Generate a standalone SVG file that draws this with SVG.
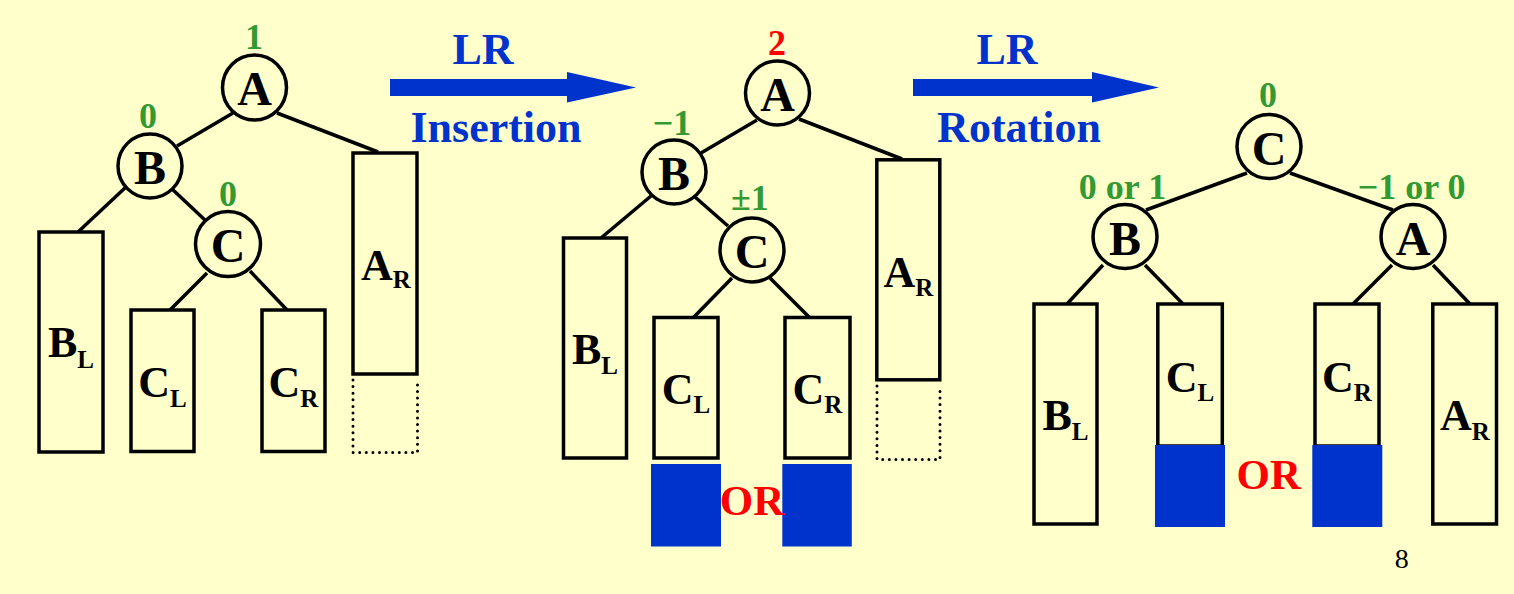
<svg xmlns="http://www.w3.org/2000/svg" width="1514" height="594" viewBox="0 0 1514 594">
<style>
  .bg{fill:#FFFFCC}
  .node{fill:#FFFFCC;stroke:#000;stroke-width:3.5}
  .box{fill:#FFFFCC;stroke:#000;stroke-width:3.5}
  .dot{fill:none;stroke:#000;stroke-width:3;stroke-linecap:round;stroke-dasharray:0 6.6}
  .edge{stroke:#000;stroke-width:3.5;fill:none}
  .fill{fill:#0033CC}
  .arrow{fill:#0033CC}
  .lt{font-family:"Liberation Serif","Times New Roman",serif;font-weight:bold;font-size:48px;fill:#000;text-anchor:middle}
  .bl{font-family:"Liberation Serif","Times New Roman",serif;font-weight:bold;font-size:44px;fill:#000;text-anchor:middle}
  .sub{font-size:25px}
  .bf{font-family:"Liberation Serif","Times New Roman",serif;font-weight:bold;font-size:36px;fill:#339933;text-anchor:middle}
  .red{fill:#FF0000}
  .blue{font-family:"Liberation Serif","Times New Roman",serif;font-weight:bold;font-size:44px;fill:#0033CC;text-anchor:middle}
  .or{font-family:"Liberation Serif","Times New Roman",serif;font-weight:bold;font-size:43px;fill:#FF0000;text-anchor:middle}
  .pg{font-family:"Liberation Serif","Times New Roman",serif;font-size:28px;fill:#000;text-anchor:middle}
</style>
<rect class="bg" x="0" y="0" width="1514" height="594"/>

<g id="connectors">
  <!-- tree 1 -->
  <line class="edge" x1="233" y1="113" x2="177" y2="146"/>
  <line class="edge" x1="277" y1="113" x2="378" y2="152"/>
  <line class="edge" x1="126" y1="187" x2="78" y2="232"/>
  <line class="edge" x1="172" y1="189" x2="205" y2="220"/>
  <line class="edge" x1="207" y1="273" x2="170" y2="310"/>
  <line class="edge" x1="250" y1="271" x2="287" y2="310"/>
  <!-- tree 2 -->
  <line class="edge" x1="757" y1="120" x2="701" y2="153"/>
  <line class="edge" x1="799" y1="119" x2="902" y2="159"/>
  <line class="edge" x1="651" y1="196" x2="601" y2="238"/>
  <line class="edge" x1="695" y1="197" x2="728" y2="226"/>
  <line class="edge" x1="732" y1="278" x2="693" y2="318"/>
  <line class="edge" x1="770" y1="278" x2="810" y2="318"/>
  <!-- tree 3 -->
  <line class="edge" x1="1247" y1="173" x2="1146" y2="210"/>
  <line class="edge" x1="1290" y1="173" x2="1393" y2="210"/>
  <line class="edge" x1="1103" y1="265" x2="1067" y2="304"/>
  <line class="edge" x1="1145" y1="265" x2="1183" y2="304"/>
  <line class="edge" x1="1392" y1="265" x2="1353" y2="304"/>
  <line class="edge" x1="1433" y1="265" x2="1470" y2="304"/>
</g>

<g id="transitions">
  <polygon class="arrow" points="390,79 567,79 567,72 636,87.5 567,102.5 567,96 390,96"/>
  <text class="blue" x="483" y="64">LR</text>
  <text class="blue" x="496" y="142">Insertion</text>
  <polygon class="arrow" points="913,79 1092,79 1092,72 1159,87.5 1092,102.5 1092,96 913,96"/>
  <text class="blue" x="1007" y="64">LR</text>
  <text class="blue" x="1019" y="142">Rotation</text>
</g>

<!-- Tree 1 -->
<g id="t1-A">
  <ellipse class="node" cx="254.5" cy="87.5" rx="32" ry="32.5"/>
  <text class="lt" x="254.5" y="105">A</text>
  <text class="bf" x="254" y="49">1</text>
</g>
<g id="t1-B">
  <circle class="node" cx="150" cy="166" r="32"/>
  <text class="lt" x="150" y="184">B</text>
  <text class="bf" x="148" y="128">0</text>
</g>
<g id="t1-C">
  <circle class="node" cx="228" cy="244" r="32.5"/>
  <text class="lt" x="228" y="262">C</text>
  <text class="bf" x="228" y="206">0</text>
</g>
<g id="t1-BL">
  <rect class="box" x="39" y="232" width="64" height="220"/>
  <text class="bl" x="71" y="357">B<tspan class="sub" dy="11">L</tspan></text>
</g>
<g id="t1-CL">
  <rect class="box" x="131" y="310" width="63" height="141.5"/>
  <text class="bl" x="162.5" y="397">C<tspan class="sub" dy="10">L</tspan></text>
</g>
<g id="t1-CR">
  <rect class="box" x="262" y="310" width="63" height="141.5"/>
  <text class="bl" x="293.5" y="397">C<tspan class="sub" dy="10">R</tspan></text>
</g>
<g id="t1-AR">
  <rect class="box" x="353" y="153" width="64" height="221"/>
  <path class="dot" d="M353,380 V452.5 H417.5 V380"/>
  <text class="bl" x="386" y="280">A<tspan class="sub" dy="8">R</tspan></text>
</g>

<!-- Tree 2 -->
<g id="t2-A">
  <circle class="node" cx="777.5" cy="93" r="32"/>
  <text class="lt" x="777.5" y="111">A</text>
  <text class="bf red" x="777" y="55">2</text>
</g>
<g id="t2-B">
  <circle class="node" cx="674" cy="172" r="32"/>
  <text class="lt" x="674" y="190">B</text>
  <text class="bf" x="672" y="135">−1</text>
</g>
<g id="t2-C">
  <circle class="node" cx="752" cy="250" r="32"/>
  <text class="lt" x="752" y="268">C</text>
  <text class="bf" x="750" y="210">±1</text>
</g>
<g id="t2-BL">
  <rect class="box" x="563.5" y="238" width="63" height="220"/>
  <text class="bl" x="595" y="364">B<tspan class="sub" dy="10">L</tspan></text>
</g>
<g id="t2-CL">
  <rect class="box" x="654" y="317.5" width="64" height="140.5"/>
  <rect class="fill" x="651" y="464" width="70" height="82.5"/>
  <text class="bl" x="686" y="404">C<tspan class="sub" dy="9">L</tspan></text>
</g>
<g id="t2-CR">
  <rect class="box" x="785" y="317.5" width="65" height="140.5"/>
  <rect class="fill" x="782.3" y="464" width="69.5" height="82.5"/>
  <text class="bl" x="817.5" y="404">C<tspan class="sub" dy="9">R</tspan></text>
</g>
<text id="t2-or" class="or" x="752" y="515">OR</text>
<g id="t2-AR">
  <rect class="box" x="876.8" y="159.8" width="63" height="220"/>
  <path class="dot" d="M877,386 V459.5 H940 V386"/>
  <text class="bl" x="908.5" y="287">A<tspan class="sub" dy="9">R</tspan></text>
</g>

<!-- Tree 3 -->
<g id="t3-C">
  <circle class="node" cx="1269" cy="146.5" r="32"/>
  <text class="lt" x="1269" y="164.5">C</text>
  <text class="bf" x="1268" y="107">0</text>
</g>
<g id="t3-B">
  <circle class="node" cx="1125" cy="236.5" r="32"/>
  <text class="lt" x="1125" y="254.5">B</text>
  <text class="bf" x="1122.5" y="199">0 or 1</text>
</g>
<g id="t3-A">
  <circle class="node" cx="1413" cy="236.5" r="32"/>
  <text class="lt" x="1413" y="254.5">A</text>
  <text class="bf" x="1411.7" y="199">−1 or 0</text>
</g>
<g id="t3-BL">
  <rect class="box" x="1034" y="304" width="63" height="220"/>
  <text class="bl" x="1065.5" y="430">B<tspan class="sub" dy="10">L</tspan></text>
</g>
<g id="t3-CL">
  <rect class="box" x="1157.8" y="304" width="64.5" height="142"/>
  <rect class="fill" x="1155" y="445" width="70" height="82"/>
  <text class="bl" x="1190" y="392">C<tspan class="sub" dy="9">L</tspan></text>
</g>
<g id="t3-CR">
  <rect class="box" x="1315" y="304" width="64" height="142"/>
  <rect class="fill" x="1312.3" y="445" width="70" height="82"/>
  <text class="bl" x="1347" y="392">C<tspan class="sub" dy="9">R</tspan></text>
</g>
<text id="t3-or" class="or" x="1268.7" y="489">OR</text>
<g id="t3-AR">
  <rect class="box" x="1432.8" y="304" width="63.7" height="220"/>
  <text class="bl" x="1465" y="430">A<tspan class="sub" dy="10">R</tspan></text>
</g>

<text id="page" class="pg" x="1401.7" y="568">8</text>
</svg>
